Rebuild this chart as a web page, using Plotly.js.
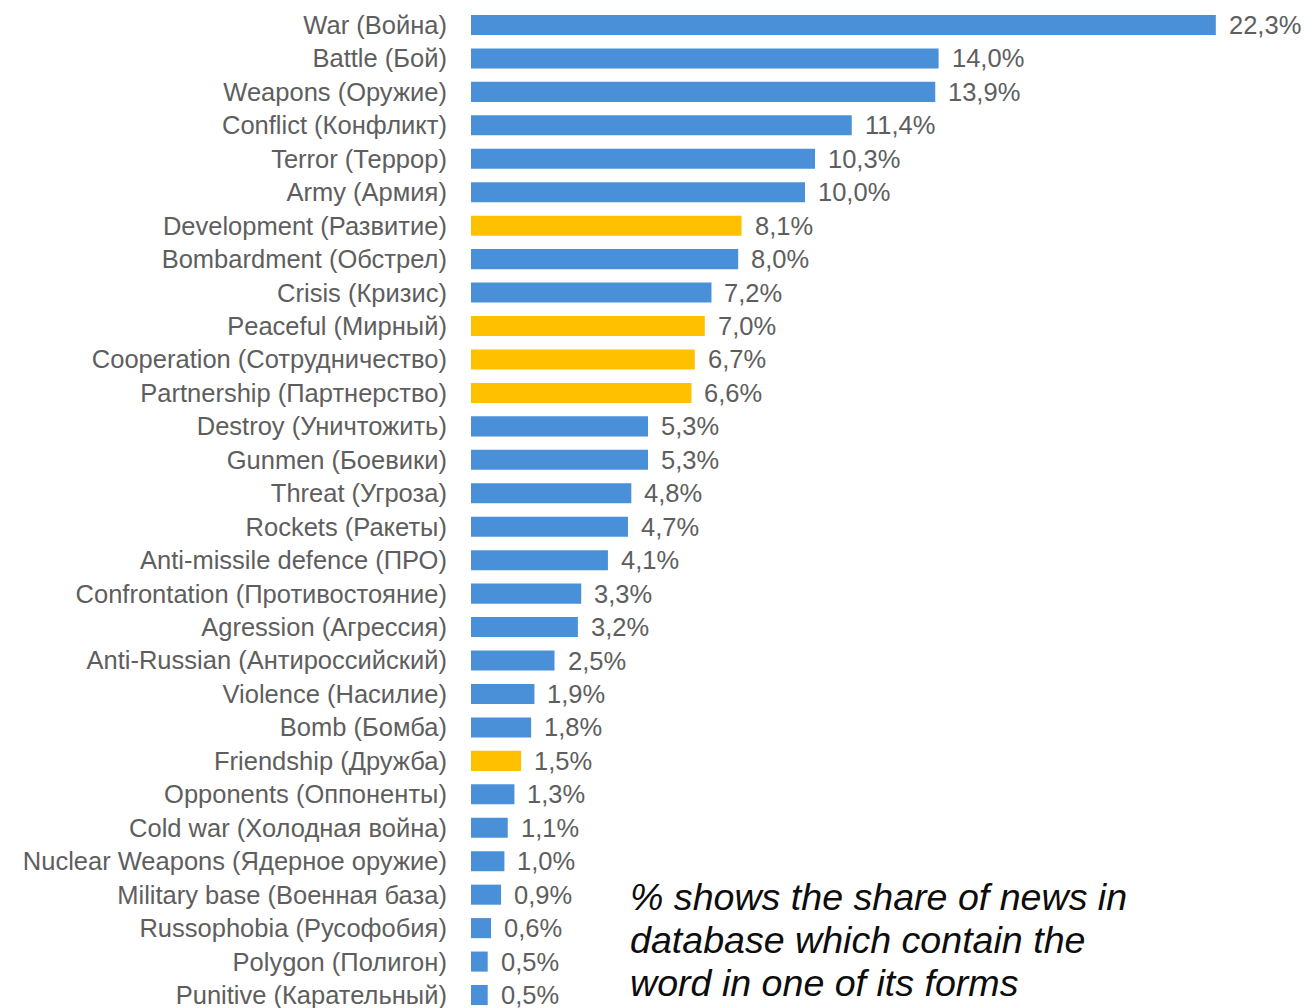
<!DOCTYPE html>
<html>
<head>
<meta charset="utf-8">
<script src="https://cdn.plot.ly/plotly-3.0.1.min.js"></script>
<style>html,body{margin:0;padding:0;background:#fff;}#chart{width:1306px;height:1008px;}</style>
</head>
<body>
<div id="chart"></div>
<script>
const categories = [
  "War (Война)", "Battle (Бой)", "Weapons (Оружие)", "Conflict (Конфликт)", "Terror (Террор)",
  "Army (Армия)", "Development (Развитие)", "Bombardment (Обстрел)", "Crisis (Кризис)", "Peaceful (Мирный)",
  "Cooperation (Сотрудничество)", "Partnership (Партнерство)", "Destroy (Уничтожить)", "Gunmen (Боевики)", "Threat (Угроза)",
  "Rockets (Ракеты)", "Anti-missile defence (ПРО)", "Confrontation (Противостояние)", "Agression (Агрессия)", "Anti-Russian (Антироссийский)",
  "Violence (Насилие)", "Bomb (Бомба)", "Friendship (Дружба)", "Opponents (Оппоненты)", "Cold war (Холодная война)",
  "Nuclear Weapons (Ядерное оружие)", "Military base (Военная база)", "Russophobia (Русофобия)", "Polygon (Полигон)", "Punitive (Карательный)"
];
const shares = [
  22.3, 14.0, 13.9, 11.4, 10.3,
  10.0, 8.1, 8.0, 7.2, 7.0,
  6.7, 6.6, 5.3, 5.3, 4.8,
  4.7, 4.1, 3.3, 3.2, 2.5,
  1.9, 1.8, 1.5, 1.3, 1.1,
  1.0, 0.9, 0.6, 0.5, 0.5
];
const groups = [
  "conflict", "conflict", "conflict", "conflict", "conflict",
  "conflict", "peace", "conflict", "conflict", "peace",
  "peace", "peace", "conflict", "conflict", "conflict",
  "conflict", "conflict", "conflict", "conflict", "conflict",
  "conflict", "conflict", "peace", "conflict", "conflict",
  "conflict", "conflict", "conflict", "conflict", "conflict"
];
const noteLines = [
  "% shows the share of news in",
  "database which contain the",
  "word in one of its forms"
];

const groupColors = { conflict: "#4a90d9", peace: "#ffc000" };
const labelFont = { family: "Liberation Sans, Arial, sans-serif", size: 25.5, color: "#5e5e5e" };

const trace = {
  type: "bar",
  orientation: "h",
  x: shares,
  y: categories,
  marker: { color: groups.map(g => groupColors[g]) },
  hoverinfo: "none"
};

const annotations = shares.map((v, i) => ({
  x: v, y: categories[i], xref: "x", yref: "y",
  text: v.toFixed(1).replace(".", ",") + "%",
  showarrow: false, xanchor: "left", yanchor: "middle", xshift: 11,
  font: labelFont
}));
const notePix = [897, 940, 983];
noteLines.forEach((t, i) => {
  annotations.push({
    xref: "paper", yref: "paper", x: (628 - 471) / 835, y: 1 - notePix[i] / 1008,
    xanchor: "left", yanchor: "middle", showarrow: false, align: "left",
    text: "<i>" + t + "</i>",
    font: { family: "Liberation Sans, Arial, sans-serif", size: 37.6, color: "#0d0d0d" }
  });
});

const layout = {
  width: 1306, height: 1008,
  margin: { l: 471, r: 0, t: 0, b: 0 },
  paper_bgcolor: "#ffffff", plot_bgcolor: "#ffffff",
  bargap: 0.4,
  showlegend: false,
  xaxis: { range: [0, 25.0], visible: false, fixedrange: true },
  yaxis: {
    type: "category", categoryorder: "array", categoryarray: categories,
    range: [29.388, -0.747],
    showgrid: false, zeroline: false, showline: false,
    ticks: "outside", ticklen: 18, tickcolor: "rgba(0,0,0,0)",
    tickfont: labelFont
  },
  annotations: annotations
};

Plotly.newPlot("chart", [trace], layout, { staticPlot: true, displayModeBar: false });
</script>
</body>
</html>
